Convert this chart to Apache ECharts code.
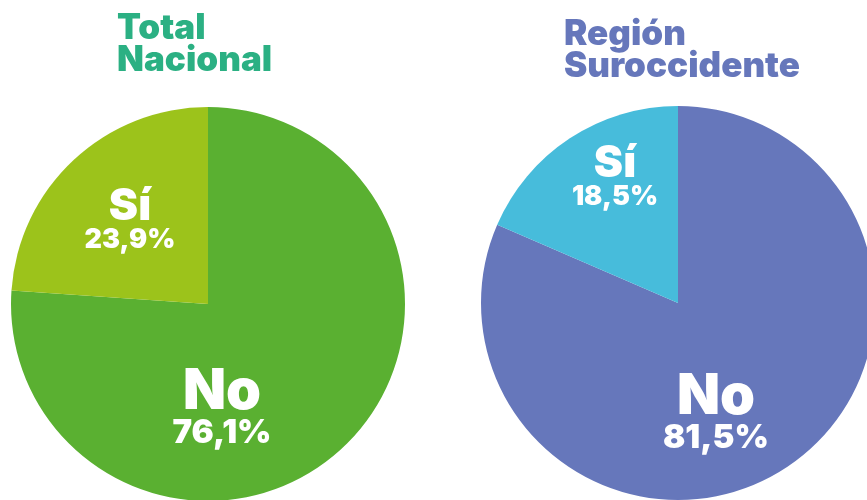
<!DOCTYPE html>
<html><head><meta charset="utf-8">
<script src="https://cdn.jsdelivr.net/npm/echarts@6/dist/echarts.min.js"></script>
<style>html,body{margin:0;padding:0;background:#fff}#c{width:867px;height:500px}</style>
</head><body><div id="c"></div>
<script>
const titles = ['Total\nNacional', 'Región\nSuroccidente'];
const categories = ['No', 'Sí'];
const nacionalValues = [76.1, 23.9];
const suroccidenteValues = [81.5, 18.5];

const FONT = 'Inter';
const fmt = v => v.toFixed(1).replace('.', ',') + '%';

const chart = echarts.init(document.getElementById('c'));
function makeSeries(values, center, colors, labelPos) {
  return {
    type: 'pie',
    center: center,
    radius: [0, 197],
    startAngle: 90,
    clockwise: true,
    silent: true,
    data: categories.map((c, i) => ({ name: c, value: values[i], itemStyle: { color: colors[i] } })),
    label: {
      show: true,
      position: 'inside',
      formatter: p => (p.dataIndex === 0 ? '{n|' : '{s|') + p.name + '}\n' + (p.dataIndex === 0 ? '{v|' : '{w|') + fmt(p.value) + '}',
      rich: {
        n: { fontFamily: FONT, fontWeight: 900, fontSize: 56, lineHeight: 50, color: '#fff', align: 'center' },
        v: { fontFamily: FONT, fontWeight: 900, fontSize: 33, lineHeight: 32, color: '#fff', align: 'center' },
        s: { fontFamily: FONT, fontWeight: 900, fontSize: 44, lineHeight: 40, color: '#fff', align: 'center' },
        w: { fontFamily: FONT, fontWeight: 900, fontSize: 27, lineHeight: 26, color: '#fff', align: 'center' }
      }
    },
    labelLine: { show: false },
    labelLayout: function (p) {
      const pos = labelPos[p.dataIndex];
      return { x: pos[0], y: pos[1], align: 'center', verticalAlign: 'middle' };
    }
  };
}

chart.setOption({
  animation: false,
  title: [
    { text: titles[0], left: 112, top: 7, textStyle: { fontFamily: FONT, fontWeight: 900, fontSize: 35, lineHeight: 32, color: '#2bb083' } },
    { text: titles[1], left: 559, top: 13, textStyle: { fontFamily: FONT, fontWeight: 900, fontSize: 35, lineHeight: 32, color: '#6677bb' } }
  ],
  series: [
    makeSeries(nacionalValues, [208, 304], ['#5ab031', '#9cc31b'], [[222, 408], [130, 220]]),
    makeSeries(suroccidenteValues, [678, 303], ['#6677bb', '#47bcdb'], [[716, 413], [615, 177]])
  ]
});
</script></body></html>
